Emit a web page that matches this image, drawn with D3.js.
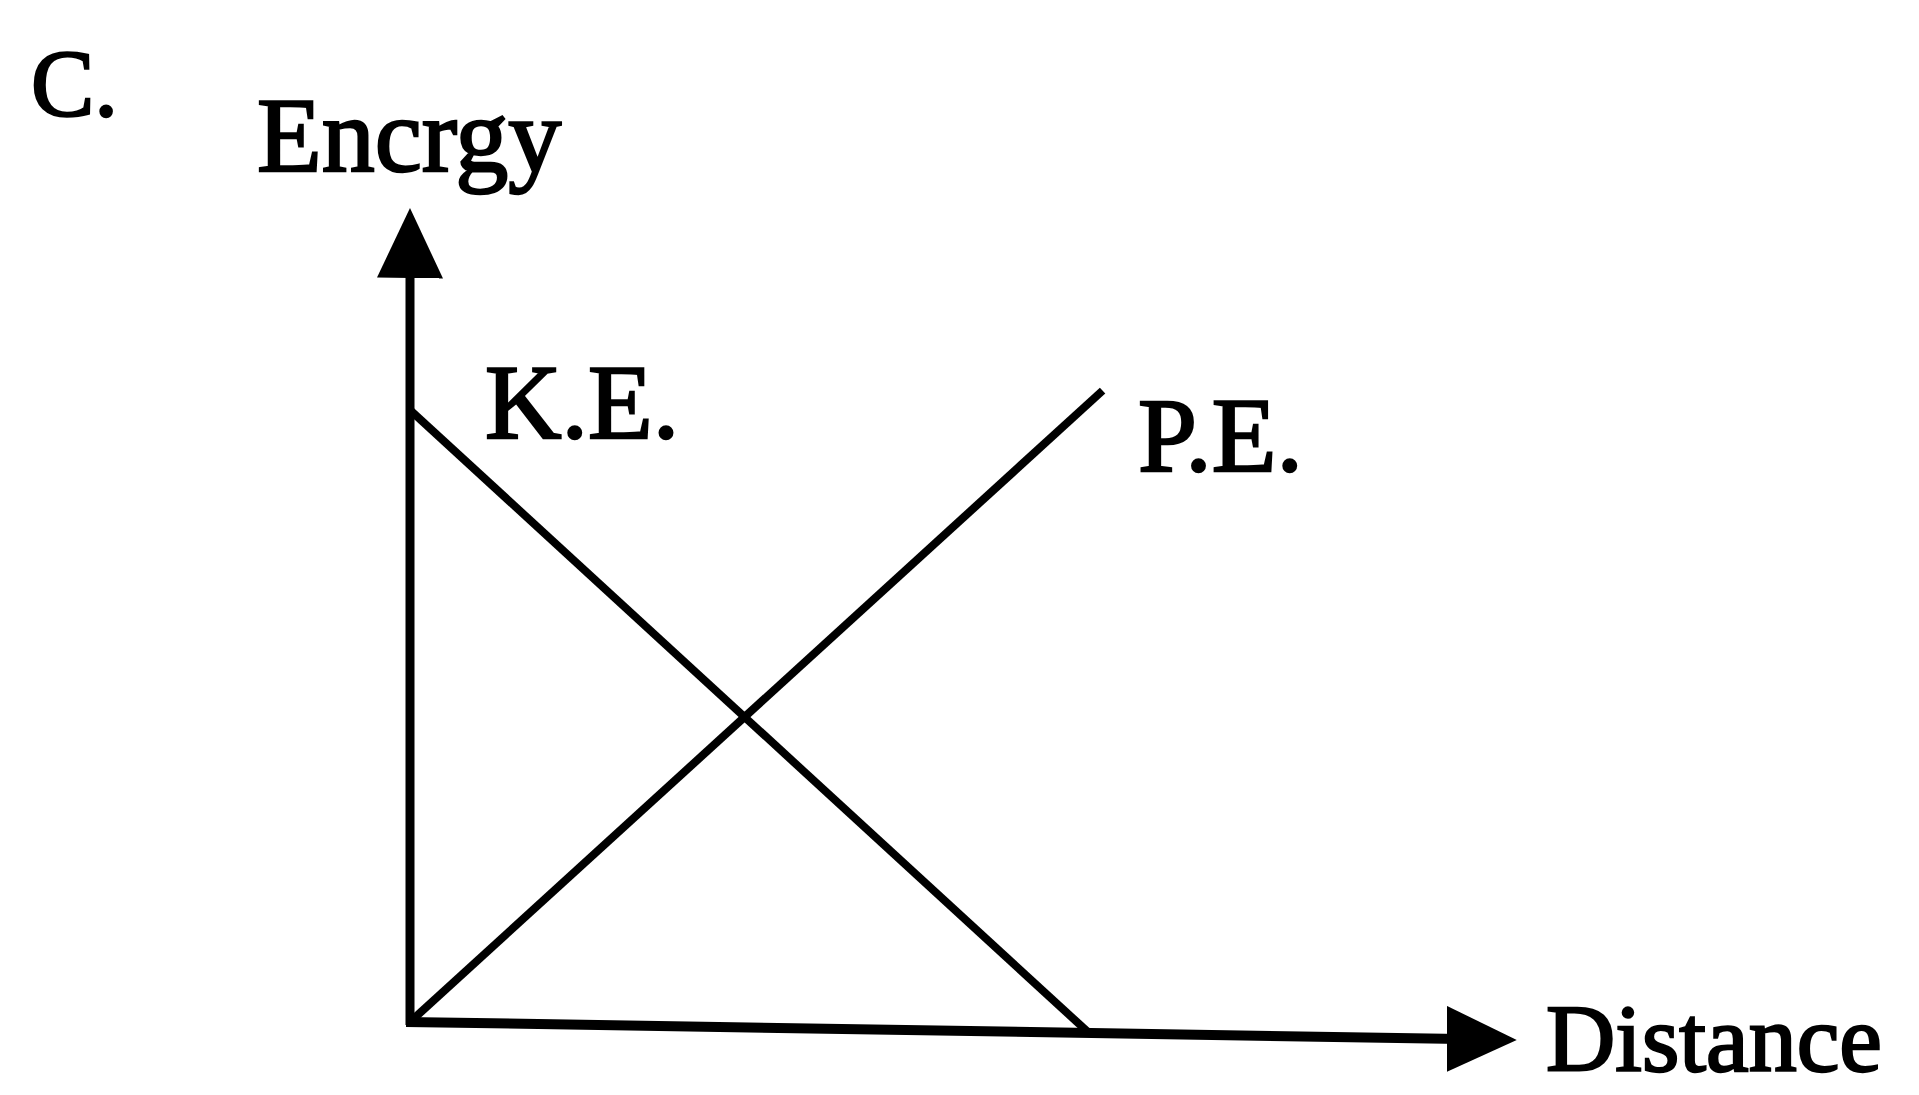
<!DOCTYPE html>
<html>
<head>
<meta charset="utf-8">
<script src="https://cdn.jsdelivr.net/npm/d3@7"></script>
<style>
  html, body { margin: 0; padding: 0; background: #fff; }
  svg { display: block; }
  .lbl { font-family: "Liberation Serif", "DejaVu Serif", serif; fill: #000; stroke: #000; stroke-width: 2.4px; }
</style>
</head>
<body>
<div id="chart"></div>
<script>
// energy vs distance
const distance = [0, 10];
const kineticEnergy = [10, 0];
const peDistance = [0, 10.2];
const potentialEnergy = [0, 10.5];
const axisMax = { x: 16.3, y: 13.3 };
const labels = { panel: "C.", yTitle: "Encrgy", xTitle: "Distance", ke: "K.E.", pe: "P.E." };

const width = 1919, height = 1095;
const origin = { x: 410, y: 1022 };

const svg = d3.select("#chart")
  .append("svg")
  .attr("width", width)
  .attr("height", height);

const defs = svg.append("defs");
defs.append("marker")
  .attr("id", "arrow")
  .attr("markerUnits", "userSpaceOnUse")
  .attr("viewBox", "0 0 70 66")
  .attr("markerWidth", 70)
  .attr("markerHeight", 66)
  .attr("refX", 30)
  .attr("refY", 33)
  .attr("orient", "auto")
  .append("path")
  .attr("d", "M0,0 L70,33 L0,66 Z")
  .attr("fill", "#000");

const x = d3.scaleLinear().domain([0, 10]).range([0, 679]);
const y = d3.scaleLinear().domain([0, 10]).range([0, -612]);

// the hand drawn baseline droops a little to the right
const g = svg.append("g")
  .attr("transform", `translate(${origin.x},${origin.y}) skewY(0.93)`);

// axes
g.append("line")
  .attr("x1", x(0)).attr("y1", y(0) + 3)
  .attr("x2", x(0)).attr("y2", y(axisMax.y) + 40)
  .attr("stroke", "#000")
  .attr("stroke-width", 9)
  .attr("marker-end", "url(#arrow)");

g.append("line")
  .attr("x1", x(0) - 4).attr("y1", y(0))
  .attr("x2", x(axisMax.x) - 40).attr("y2", y(0))
  .attr("stroke", "#000")
  .attr("stroke-width", 10)
  .attr("marker-end", "url(#arrow)");

const line = d3.line()
  .x(d => x(d[0]))
  .y(d => y(d[1]));

g.append("path")
  .datum(d3.zip(distance, kineticEnergy))
  .attr("d", line)
  .attr("fill", "none")
  .attr("stroke", "#000")
  .attr("stroke-width", 8);

g.append("path")
  .datum(d3.zip(peDistance, potentialEnergy))
  .attr("d", line)
  .attr("fill", "none")
  .attr("stroke", "#000")
  .attr("stroke-width", 8);

// labels
const text = (t, px, py, size) => svg.append("text")
  .attr("class", "lbl")
  .attr("x", px)
  .attr("y", py)
  .style("font-size", size + "px")
  .text(t);

text(labels.panel, 31, 116, 95);
text(labels.yTitle, 257, 171, 106);
text(labels.ke, 485, 438, 106);
text(labels.pe, 1138, 471, 106);
text(labels.xTitle, 1546, 1071, 96);
</script>
</body>
</html>
